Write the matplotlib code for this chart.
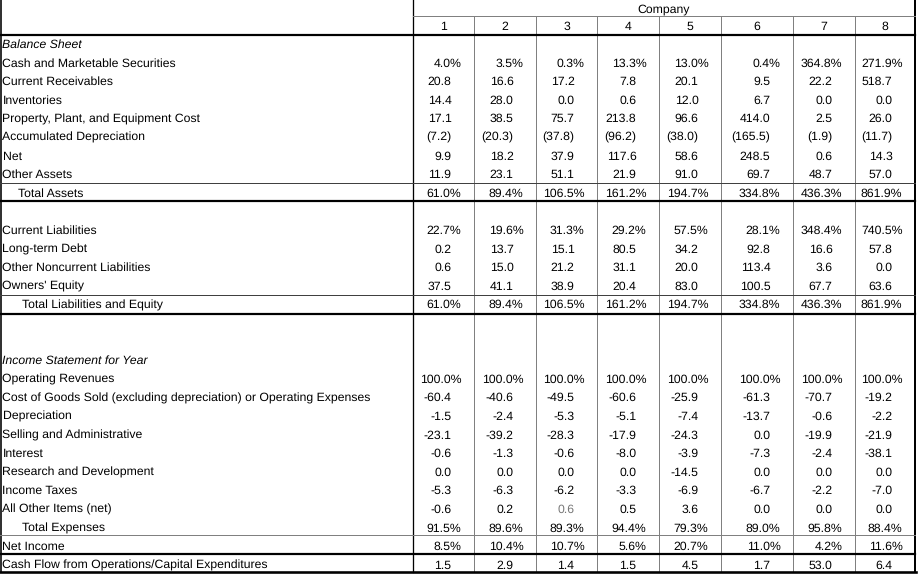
import matplotlib.pyplot as plt

plt.rcParams['font.family'] = ['Liberation Sans', 'DejaVu Sans']
plt.rcParams['text.hinting'] = 'no_hinting'

companies = ["1", "2", "3", "4", "5", "6", "7", "8"]

# balance sheet (percent of revenues)
cash = [4.0, 3.5, 0.3, 13.3, 13.0, 0.4, 364.8, 271.9]
receivables = [20.8, 16.6, 17.2, 7.8, 20.1, 9.5, 22.2, 518.7]
inventories = [14.4, 28.0, 0.0, 0.6, 12.0, 6.7, 0.0, 0.0]
ppe_cost = [17.1, 38.5, 75.7, 213.8, 96.6, 414.0, 2.5, 26.0]
acc_dep = [-7.2, -20.3, -37.8, -96.2, -38.0, -165.5, -1.9, -11.7]
ppe_net = [9.9, 18.2, 37.9, 117.6, 58.6, 248.5, 0.6, 14.3]
other_assets = [11.9, 23.1, 51.1, 21.9, 91.0, 69.7, 48.7, 57.0]
total_assets = [61.0, 89.4, 106.5, 161.2, 194.7, 334.8, 436.3, 861.9]

current_liab = [22.7, 19.6, 31.3, 29.2, 57.5, 28.1, 348.4, 740.5]
lt_debt = [0.2, 13.7, 15.1, 80.5, 34.2, 92.8, 16.6, 57.8]
other_noncurrent = [0.6, 15.0, 21.2, 31.1, 20.0, 113.4, 3.6, 0.0]
owners_equity = [37.5, 41.1, 38.9, 20.4, 83.0, 100.5, 67.7, 63.6]
total_le = [61.0, 89.4, 106.5, 161.2, 194.7, 334.8, 436.3, 861.9]

# income statement
revenues = [100.0, 100.0, 100.0, 100.0, 100.0, 100.0, 100.0, 100.0]
cogs = [-60.4, -40.6, -49.5, -60.6, -25.9, -61.3, -70.7, -19.2]
depreciation = [-1.5, -2.4, -5.3, -5.1, -7.4, -13.7, -0.6, -2.2]
selling_admin = [-23.1, -39.2, -28.3, -17.9, -24.3, 0.0, -19.9, -21.9]
interest = [-0.6, -1.3, -0.6, -8.0, -3.9, -7.3, -2.4, -38.1]
research = [0.0, 0.0, 0.0, 0.0, -14.5, 0.0, 0.0, 0.0]
income_taxes = [-5.3, -6.3, -6.2, -3.3, -6.9, -6.7, -2.2, -7.0]
other_items = [-0.6, 0.2, 0.6, 0.5, 3.6, 0.0, 0.0, 0.0]
total_expenses = [91.5, 89.6, 89.3, 94.4, 79.3, 89.0, 95.8, 88.4]
net_income = [8.5, 10.4, 10.7, 5.6, 20.7, 11.0, 4.2, 11.6]
cash_flow_capex = [1.5, 2.9, 1.4, 1.5, 4.5, 1.7, 53.0, 6.4]

# (row index, label, values, format, style)
rows = [
    (0, "Balance Sheet", None, None, "italic"),
    (1, "Cash and Marketable Securities", cash, "pct", ""),
    (2, "Current Receivables", receivables, "num", ""),
    (3, "Inventories", inventories, "num", ""),
    (4, "Property, Plant, and Equipment Cost", ppe_cost, "num", ""),
    (5, "Accumulated Depreciation", acc_dep, "paren", ""),
    (6, "Net", ppe_net, "num", ""),
    (7, "Other Assets", other_assets, "num", ""),
    (8, "Total Assets", total_assets, "pct", "indent"),
    (10, "Current Liabilities", current_liab, "pct", ""),
    (11, "Long-term Debt", lt_debt, "num", ""),
    (12, "Other Noncurrent Liabilities", other_noncurrent, "num", ""),
    (13, "Owners' Equity", owners_equity, "num", ""),
    (14, "Total Liabilities and Equity", total_le, "pct", "indent"),
    (17, "Income Statement for Year", None, None, "italic"),
    (18, "Operating Revenues", revenues, "pct", ""),
    (19, "Cost of Goods Sold (excluding depreciation) or Operating Expenses", cogs, "num", ""),
    (20, "Depreciation", depreciation, "num", ""),
    (21, "Selling and Administrative", selling_admin, "num", ""),
    (22, "Interest", interest, "num", ""),
    (23, "Research and Development", research, "num", ""),
    (24, "Income Taxes", income_taxes, "num", ""),
    (25, "All Other Items (net)", other_items, "num", ""),
    (26, "Total Expenses", total_expenses, "pct", "indent"),
    (27, "Net Income", net_income, "pct", ""),
    (28, "Cash Flow from Operations/Capital Expenditures", cash_flow_capex, "num", ""),
]

col_edges = [412.5, 474, 536, 597, 659, 721, 793, 855, 915]


def fmt(v, kind):
    if kind == "pct":
        return f"{v:.1f}%"
    if kind == "paren":
        return f"({abs(v):.1f})"
    return f"{v:.1f}"


fig = plt.figure(figsize=(9.19, 5.76), dpi=100)
ax = fig.add_axes([0, 0, 1, 1])
ax.set_xlim(0, 919)
ax.set_ylim(576, 0)
ax.axis("off")

fs = 8.8

# header
ax.text((col_edges[0] + col_edges[-1]) / 2, 8, "Company", ha="center",
        va="center_baseline", fontsize=fs)
for i, c in enumerate(companies):
    ax.text((col_edges[i] + col_edges[i + 1]) / 2, 25.5, c, ha="center",
            va="center_baseline", fontsize=fs)

for idx, label, vals, kind, style in rows:
    y = 43.5 + 18.6 * idx
    x = 2.5
    if style == "indent":
        x = 18 if idx == 8 else 21.5
    ax.text(x, y, label, ha="left", va="center_baseline", fontsize=fs,
            style="italic" if style == "italic" else "normal")
    if vals is None:
        continue
    for i, v in enumerate(vals):
        right = col_edges[i + 1]
        off = 12.5 if kind == "pct" else 22.5
        color = "#777777" if (idx == 25 and i == 2) else "black"
        ax.text(right - off, y, fmt(v, kind), ha="right", va="center_baseline",
                fontsize=fs, color=color)

px = 0.72  # points per pixel

# vertical rules
ax.plot([1.2, 1.2], [0, 572], color="black", lw=1.6 * px)
ax.plot([col_edges[0]] * 2, [0, 572], color="black", lw=1.3 * px)
ax.plot([col_edges[-1]] * 2, [0, 572], color="black", lw=2.0 * px)
for x in col_edges[1:-1]:
    ax.plot([x, x], [16, 572], color="#808080", lw=1.0 * px)

# horizontal rules
ax.plot([col_edges[0], col_edges[-1]], [16, 16], color="#808080", lw=1.0 * px)
for y in [183, 295]:
    ax.plot([0, col_edges[-1]], [y, y], color="#404040", lw=1.0 * px)
ax.plot([0, col_edges[-1]], [535, 535], color="#808080", lw=1.0 * px)
for y in [34.5, 201, 313.5, 554]:
    ax.plot([0, col_edges[-1]], [y, y], color="black", lw=2.2 * px)
ax.plot([0, col_edges[-1] + 1], [571.5, 571.5], color="black", lw=2.6 * px)

fig.savefig("out.png", dpi=100)
